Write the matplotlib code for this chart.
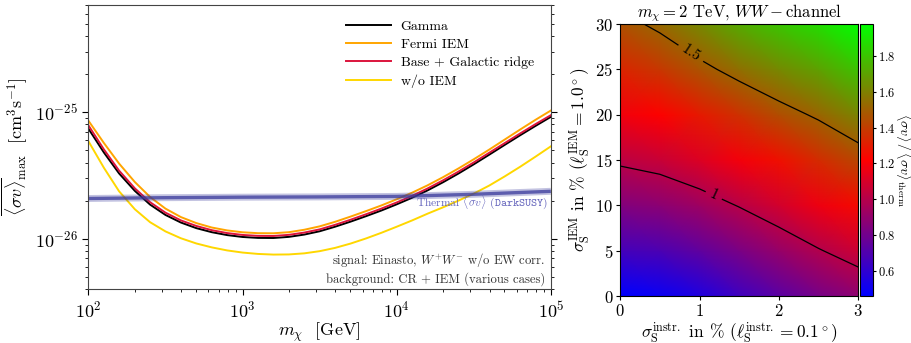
import numpy as np
import matplotlib
matplotlib.use("Agg")
import matplotlib.pyplot as plt
from matplotlib.colors import Normalize
from matplotlib.cm import ScalarMappable

plt.rcParams['font.family'] = 'serif'
plt.rcParams['font.serif'] = ['cmr10']
plt.rcParams['mathtext.fontset'] = 'cm'
plt.rcParams['axes.formatter.use_mathtext'] = True
plt.rcParams['axes.unicode_minus'] = False

# ---------------- data: left panel (values in units of 1e-26 cm^3/s) ----------------
mass = [100, 126, 158, 200, 251, 316, 398, 501, 631, 794,
        1000, 1259, 1585, 1995, 2512, 3162, 3981, 5012, 6310, 7943,
        10000, 12589, 15849, 19953, 25119, 31623, 39811, 50119, 63096, 79433, 100000]
gamma = [7.396, 4.797, 3.281, 2.388, 1.862, 1.542, 1.343, 1.213, 1.127, 1.069,
         1.033, 1.016, 1.014, 1.035, 1.079, 1.146, 1.245, 1.365, 1.507, 1.671,
         1.871, 2.109, 2.410, 2.793, 3.273, 3.873, 4.613, 5.508, 6.561, 7.780, 9.183]
fermi_iem = [8.551, 5.702, 3.926, 2.805, 2.138, 1.730, 1.483, 1.330, 1.227, 1.164,
             1.125, 1.107, 1.105, 1.127, 1.178, 1.253, 1.361, 1.496, 1.652, 1.832,
             2.051, 2.312, 2.642, 3.062, 3.589, 4.246, 5.058, 6.067, 7.278, 8.690, 10.30]
base_ridge = [7.852, 5.070, 3.451, 2.500, 1.945, 1.607, 1.396, 1.262, 1.169, 1.109,
              1.072, 1.054, 1.052, 1.074, 1.119, 1.186, 1.288, 1.413, 1.560, 1.730,
              1.936, 2.183, 2.495, 2.891, 3.388, 4.009, 4.775, 5.689, 6.776, 8.035, 9.462]
wo_iem = [5.888, 3.631, 2.371, 1.710, 1.352, 1.143, 1.009, 0.918, 0.855, 0.809,
          0.778, 0.759, 0.750, 0.752, 0.767, 0.798, 0.847, 0.916, 1.005, 1.114,
          1.245, 1.396, 1.578, 1.770, 2.000, 2.275, 2.630, 3.105, 3.698, 4.446, 5.370]
thermal_mass = [100, 300, 1000, 3000, 10000, 30000, 100000]
thermal_sv = [2.08, 2.11, 2.13, 2.14, 2.16, 2.24, 2.37]
unit = 1e-26

labels = ['Gamma', 'Fermi IEM', 'Base + Galactic ridge', 'w/o IEM']
colors = ['black', '#FFA500', '#DC143C', '#FFD700']

# ---------------- data: right panel ----------------
sig_instr = [0, 0.5, 1.0, 1.5, 2.0, 2.5, 3.0]
sig_iem = [0, 5, 10, 15, 20, 25, 30]
# rows: sig_iem, columns: sig_instr ; values <sigma v>/<sigma v>_therm
ratio = [
    [0.460, 0.490, 0.550, 0.648, 0.727, 0.815, 0.883],
    [0.662, 0.689, 0.745, 0.827, 0.907, 0.991, 1.066],
    [0.850, 0.878, 0.934, 1.007, 1.086, 1.168, 1.248],
    [1.023, 1.056, 1.116, 1.187, 1.266, 1.345, 1.431],
    [1.182, 1.224, 1.293, 1.367, 1.446, 1.521, 1.613],
    [1.327, 1.381, 1.463, 1.547, 1.626, 1.698, 1.796],
    [1.457, 1.529, 1.628, 1.727, 1.806, 1.875, 1.978],
]
contour_levels = [1.0, 1.5]
cbar_ticks = [0.6, 0.8, 1.0, 1.2, 1.4, 1.6, 1.8]

fig = plt.figure(figsize=(9.12, 3.43), dpi=100)

# ---------------- left panel ----------------
ax1 = fig.add_axes([0.097, 0.157, 0.507, 0.828])
m = np.array(mass, dtype=float)
series = [gamma, fermi_iem, base_ridge, wo_iem]
for vals, lab, col in zip(series, labels, colors):
    ax1.plot(m, np.array(vals) * unit, color=col, lw=1.4, label=lab)
tm = np.array(thermal_mass, dtype=float)
ts = np.array(thermal_sv) * unit
ax1.plot(tm, ts, color='#3a3a9c', lw=5.0, alpha=0.3, solid_capstyle='butt')
ax1.plot(tm, ts, color='#3a3a9c', lw=2.4, alpha=0.75, solid_capstyle='butt')
ax1.text(9.6e4, 1.95e-26, r'Thermal $\langle\sigma v\rangle$ ($\mathtt{DarkSUSY}$)',
         color='#6464bc', fontsize=8.3, ha='right', va='center')

ax1.set_xscale('log')
ax1.set_yscale('log')
ax1.set_xlim(1e2, 1e5)
ax1.set_ylim(4e-27, 7e-25)
ax1.tick_params(which='both', direction='out', right=True, top=False,
                labelright=False, labelsize=13)
ax1.tick_params(which='major', length=4)
ax1.tick_params(which='minor', length=2.2)
for s in ax1.spines.values():
    s.set_color('#444444')
ax1.set_xlabel(r'$m_\chi$  [GeV]', fontsize=13, labelpad=0)
ax1.set_ylabel(r'$\overline{\langle \sigma v\rangle}_{\rm max}\ \ [{\rm cm}^3{\rm s}^{-1}]$',
               fontsize=13, labelpad=4)
ax1.legend(loc='upper right', bbox_to_anchor=(0.99, 0.99), frameon=False,
           fontsize=10, handlelength=3.2, handletextpad=0.7, labelspacing=0.38)
ax1.text(0.988, 0.012,
         'signal: Einasto, $W^{+}W^{-}$ w/o EW corr.\nbackground: CR + IEM (various cases)',
         transform=ax1.transAxes, ha='right', va='bottom', fontsize=9.1,
         color='#333333', linespacing=1.25)

# ---------------- right panel ----------------
ax2 = fig.add_axes([0.680, 0.137, 0.261, 0.793])
Z = np.array(ratio)
norm = Normalize(vmin=Z.min(), vmax=Z.max())
ax2.pcolormesh(sig_instr, sig_iem, Z, shading='gouraud', cmap='brg', norm=norm)
cs = ax2.contour(sig_instr, sig_iem, Z, levels=contour_levels, colors='black', linewidths=0.9)
ax2.clabel(cs, fmt={1.0: '1', 1.5: '1.5'}, fontsize=11, inline=True,
           manual=[(0.9, 26.9), (1.18, 11.1)])
ax2.set_xlim(0, 3)
ax2.set_ylim(0, 30)
ax2.set_xticks([0, 1, 2, 3])
ax2.set_yticks([0, 5, 10, 15, 20, 25, 30])
ax2.tick_params(direction='out', length=3, labelsize=12, pad=2)
ax2.set_title(r'$m_\chi = 2$ TeV, $WW-$channel', fontsize=12, pad=4)
ax2.set_xlabel(r'$\sigma_{\rm S}^{\rm instr.}$ in % ($\ell_{\rm S}^{\rm instr.} = 0.1^\circ$)',
               fontsize=12.5, labelpad=1)
ax2.set_ylabel(r'$\sigma_{\rm S}^{\rm IEM}$ in % ($\ell_{\rm S}^{\rm IEM} = 1.0^\circ$)',
               fontsize=12.5, labelpad=2)

cax = fig.add_axes([0.943, 0.137, 0.0143, 0.793])
cb = fig.colorbar(ScalarMappable(norm=norm, cmap='brg'), cax=cax)
cb.set_ticks(cbar_ticks)
cb.ax.tick_params(labelsize=9, length=2.5, pad=1)
fig.text(0.9925, 0.5335, r'$\langle\sigma v\rangle\,/\,\langle\sigma v\rangle_{\rm therm}$',
         rotation=270, fontsize=10, ha='center', va='center')

fig.savefig('out.png', dpi=100)
